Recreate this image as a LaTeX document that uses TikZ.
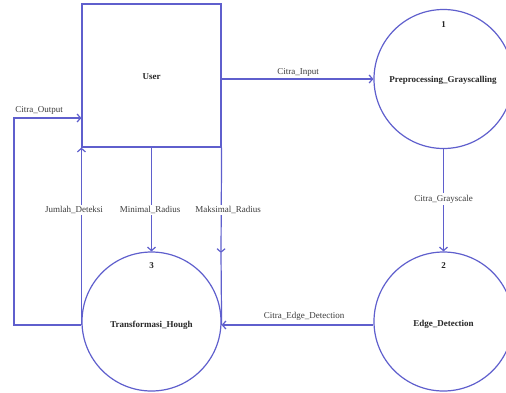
\documentclass[tikz,border=0pt]{standalone}
\usepackage{fontspec}
\setmainfont{Liberation Serif}
\usetikzlibrary{arrows.meta}
\definecolor{dfd}{RGB}{95,95,205}
\definecolor{txt}{RGB}{60,60,60}
\begin{document}
\begin{tikzpicture}[x=1pt,y=-1pt,line width=1.2pt,
  ln/.style={draw=dfd},
  flow/.style={draw=dfd,-{Straight Barb[length=3.5pt,width=8pt]}},
  proc/.style={circle,draw=dfd,minimum size=139pt,inner sep=0pt},
  ent/.style={rectangle,draw=dfd,minimum width=139pt,minimum height=143pt,inner sep=0pt},
  ptxt/.style={font=\fontsize{9}{10}\selectfont\bfseries,text=black!85,inner sep=0pt},
  lbl/.style={font=\fontsize{9}{10}\selectfont,text=txt,fill=white,inner sep=1.5pt}]
\useasboundingbox (0,0) rectangle (506,392);
\fill[white] (0,0) rectangle (506,392);
% entity and processes
\node[ent] (user) at (151.5,75.5) {};
\node[ptxt] (usert) at (151.5,77) {User};
\node[proc] (p1) at (443.5,79) {};
\node[proc] (p2) at (443.5,321.5) {};
\node[proc] (p3) at (151.5,321.5) {};
\node[ptxt] (p1t) at (443,80) {Preprocessing\_Grayscalling};
\node[ptxt] (p1n) at (443.5,25) {1};
\node[ptxt] (p2t) at (443.5,324) {Edge\_Detection};
\node[ptxt] (p2n) at (443.5,266) {2};
\node[ptxt] (p3t) at (151.5,325) {Transformasi\_Hough};
\node[ptxt] (p3n) at (151.5,266) {3};
% flows
\draw[flow] (p1.west -| user.east) -- (p1.west);
\draw[flow] (p1.south) -- (p2.north);
\draw[flow] ([yshift=-3.5pt]p2.west) -- ([yshift=-3.5pt]p3.east);
\coordinate (ob) at (14,118);
\draw[flow] ([yshift=-3.5pt]p3.west) -| (ob) -- (ob -| user.west);
\draw[flow] ([yshift=-3.5pt]p3.west) -- (user.south west);
\draw[flow] (user.south) -- (p3.north);
\coordinate (mk) at (221,253);
\draw[flow] (user.south east) -- (mk);
\draw[ln] (mk) -- ([yshift=-3.5pt]p3.east);
% labels
\node[lbl] (l1) at (298,72) {Citra\_Input};
\node[lbl] (l2) at (443.5,199) {Citra\_Grayscale};
\node[lbl] (l3) at (304,316) {Citra\_Edge\_Detection};
\node[lbl] (l4) at (39,110) {Citra\_Output};
\node[lbl] (l5) at (74,210) {Jumlah\_Deteksi};
\node[lbl] (l6) at (150,210) {Minimal\_Radius};
\node[lbl] (l7) at (228,210) {Maksimal\_Radius};
\end{tikzpicture}
\end{document}
